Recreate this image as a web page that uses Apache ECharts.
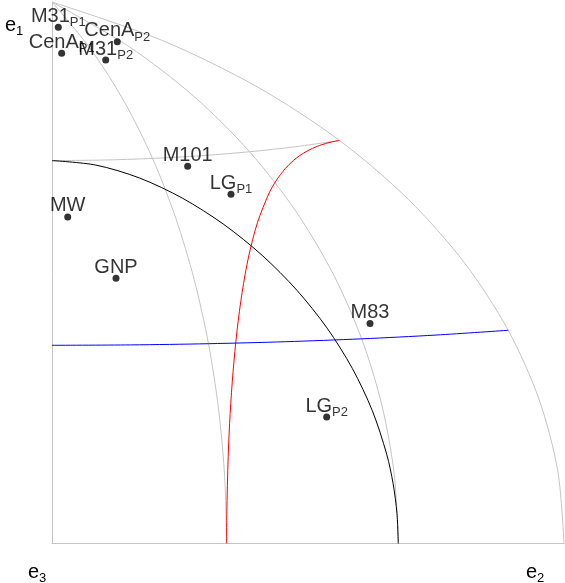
<!DOCTYPE html>
<html>
<head>
<meta charset="utf-8">
<script src="https://cdn.jsdelivr.net/npm/echarts@6.0.0/dist/echarts.min.js"></script>
<style>
  html, body { margin: 0; padding: 0; background: #fff; }
  #chart { width: 565px; height: 583px; }
</style>
</head>
<body>
<div id="chart"></div>
<script>
// octant in a Hammer-type projection, values as fractions of the plot box
// x: 0 = e3 .. 1 = e2 ; y: 0 = bottom .. 1 = e1

// gray meridians (30, 60, 90 deg) and the 60 deg parallel
const meridian30 = [[0.34109, 0], [0.33716, 0.12431], [0.32537, 0.24763], [0.30563, 0.36896], [0.27774, 0.48730],
  [0.24147, 0.60169], [0.19636, 0.71116], [0.14181, 0.81470], [0.07685, 0.91134], [0, 1]]
const meridian60 = [[0.67634, 0], [0.66843, 0.12757], [0.64465, 0.25396], [0.60484, 0.37796], [0.54876, 0.49839],
  [0.47599, 0.61398], [0.38590, 0.72346], [0.27755, 0.82538], [0.14958, 0.91819], [0, 1]]
const meridian90 = [[1, 0], [0.98795, 0.13333], [0.95167, 0.26510], [0.89112, 0.39377], [0.80613, 0.51769],
  [0.69638, 0.63517], [0.56152, 0.74438], [0.40102, 0.84324], [0.21412, 0.92940], [0, 1]]
const parallel60 = [[0, 0.70711], [0.09861, 0.70812], [0.19636, 0.71116], [0.29242, 0.71625],
  [0.38590, 0.72346], [0.47590, 0.73280], [0.56152, 0.74438]]

// coloured circles
const blackCurve = [[0.67634, 0], [0.67380, 0.05529], [0.66627, 0.11033], [0.65370, 0.16490], [0.62560, 0.24531],
  [0.58666, 0.32322], [0.53732, 0.39771], [0.47831, 0.46771], [0.41055, 0.53206], [0.33548, 0.58930],
  [0.25488, 0.63768], [0.17087, 0.67500], [0.08555, 0.69886], [0, 0.70711]]
const redCurve = [[0.34109, 0], [0.34141, 0.05387], [0.34412, 0.16095], [0.34798, 0.23999], [0.35365, 0.31727],
  [0.36129, 0.39208], [0.37129, 0.46361], [0.38426, 0.53089], [0.40132, 0.59263], [0.42410, 0.64717],
  [0.43745, 0.66956], [0.45550, 0.69233], [0.47135, 0.70721], [0.48324, 0.71597], [0.49970, 0.72555],
  [0.51813, 0.73352], [0.52610, 0.73625], [0.54309, 0.74088], [0.56152, 0.74438]]
const blueCurve = [[0, 0.36603], [0.15322, 0.36676], [0.30563, 0.36896], [0.45643, 0.37267],
  [0.60484, 0.37796], [0.75001, 0.38495], [0.89112, 0.39377]]

// points
const pointNames = ['M31', 'CenA', 'CenA', 'M31', 'M101', 'LG', 'MW', 'GNP', 'M83', 'LG']
const pointSubs  = ['P1', 'P2', 'P1', 'P2', '', 'P1', '', '', '', 'P2']
const pointX = [0.0123, 0.1275, 0.0189, 0.1049, 0.2650, 0.3496, 0.0307, 0.1250, 0.6211, 0.5365]
const pointY = [0.9532, 0.9266, 0.9052, 0.8928, 0.6969, 0.6451, 0.6031, 0.4898, 0.4061, 0.2335]

const FONT = 'Liberation Sans'
const GRAY = '#c4c4c4'

// main text + lowered subscript
const rich = {
  a: { fontFamily: FONT, fontSize: 20, lineHeight: 20, verticalAlign: 'top', color: '#000' },
  s: { fontFamily: FONT, fontSize: 13, lineHeight: 20, verticalAlign: 'top', padding: [10, 0, 0, 0], color: '#000' }
}

function curve(data, color) {
  return {
    type: 'line',
    data: data,
    smooth: 0.3,
    showSymbol: false,
    silent: true,
    lineStyle: { color: color, width: 1 },
    z: 2
  }
}

const chart = echarts.init(document.getElementById('chart'), null, { renderer: 'canvas' })

chart.setOption({
  animation: false,
  grid: { left: 52, right: 1, top: 2, bottom: 39.5 },
  xAxis: {
    type: 'value', min: 0, max: 1,
    axisLine: { show: true, lineStyle: { color: GRAY } },
    axisTick: { show: false }, axisLabel: { show: false }, splitLine: { show: false }
  },
  yAxis: {
    type: 'value', min: 0, max: 1,
    axisLine: { show: true, lineStyle: { color: GRAY } },
    axisTick: { show: false }, axisLabel: { show: false }, splitLine: { show: false }
  },
  graphic: [
    { type: 'text', left: 5, top: 15, style: { text: '{a|e}{s|1}', rich: rich } },
    { type: 'text', left: 28, top: 562, style: { text: '{a|e}{s|3}', rich: rich } },
    { type: 'text', left: 526, top: 562, style: { text: '{a|e}{s|2}', rich: rich } }
  ],
  series: [
    curve(meridian30, GRAY),
    curve(meridian60, GRAY),
    curve(meridian90, GRAY),
    curve(parallel60, GRAY),
    curve(blackCurve, '#000'),
    curve(redCurve, '#ff0000'),
    curve(blueCurve, '#0000ff'),
    {
      type: 'scatter',
      symbol: 'circle',
      symbolSize: 7,
      itemStyle: { color: '#000' },
      z: 5,
      data: pointNames.map((n, i) => ({ name: n, sub: pointSubs[i], value: [pointX[i], pointY[i]] })),
      label: {
        show: true,
        position: [3.5, -17.5],
        align: 'center',
        verticalAlign: 'top',
        formatter: (p) => p.data.sub ? `{a|${p.name}}{s|${p.data.sub}}` : `{a|${p.name}}`,
        rich: rich
      },
      labelLayout: { hideOverlap: false }
    }
  ]
})
</script>
</body>
</html>
